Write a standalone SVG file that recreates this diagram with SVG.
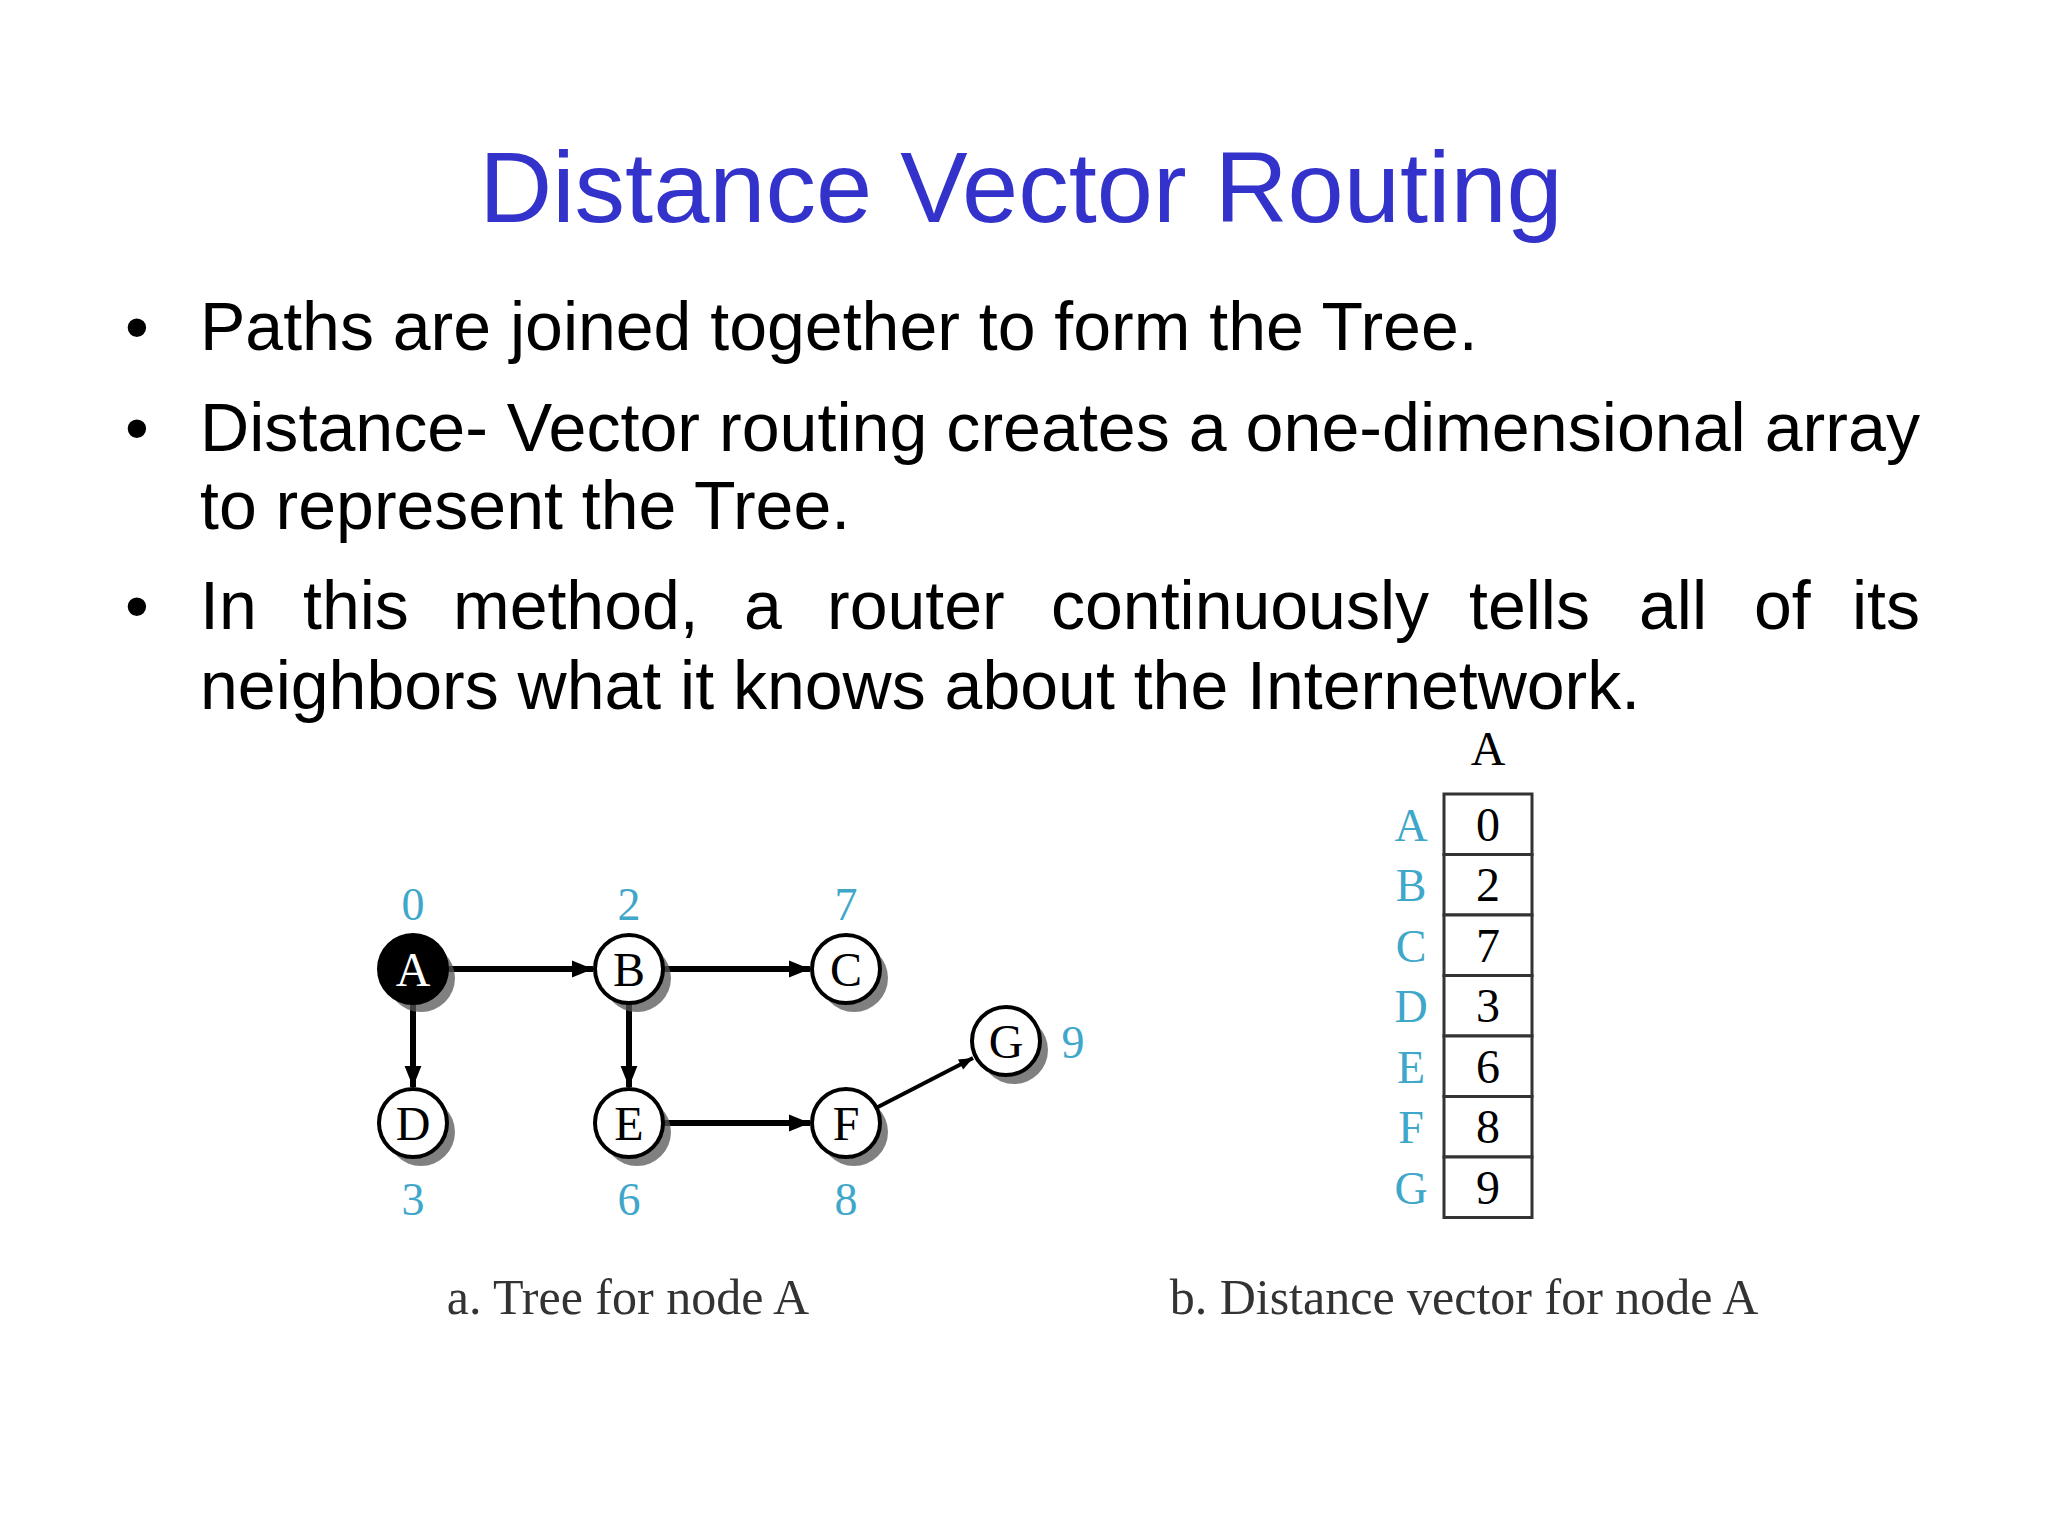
<svg xmlns="http://www.w3.org/2000/svg" width="2048" height="1536" viewBox="0 0 2048 1536">
<defs>
<style>
.t{font-family:"Liberation Sans",Arial,sans-serif;fill:#000;font-size:68px}
.s{font-family:"Liberation Serif","Times New Roman",serif}
.n{font-size:48px;fill:#000;text-anchor:middle}
.c{font-size:46px;fill:#3fa7c9;text-anchor:middle}
.sh{fill:#555;opacity:0.75}
.nd{fill:#fff;stroke:#000;stroke-width:4}
.e{stroke:#000;stroke-width:6;fill:none;marker-end:url(#ar)}
.cell{fill:#fff;stroke:#333;stroke-width:3}
</style>
<marker id="ar" viewBox="0 0 10 10" refX="10" refY="5" markerWidth="4" markerHeight="3.5" orient="auto" markerUnits="strokeWidth"><path d="M0,1 L10,5 L0,9 z" fill="#000"/></marker>
</defs>
<rect width="2048" height="1536" fill="#fff"/>
<text x="1021" y="222" font-family="Liberation Sans,Arial,sans-serif" font-size="101" fill="#3333cc" text-anchor="middle">Distance Vector Routing</text>
<g class="t">
<text x="125" y="350">•</text><text x="200" y="350">Paths are joined together to form the Tree.</text>
<text x="125" y="451">•</text><text x="200" y="451" textLength="1720" lengthAdjust="spacingAndGlyphs">Distance- Vector routing creates a one-dimensional array</text>
<text x="200" y="529">to represent the Tree.</text>
<text x="125" y="629">•</text><text y="629"><tspan x="200">In</tspan><tspan x="303">this</tspan><tspan x="453">method,</tspan><tspan x="744">a</tspan><tspan x="827">router</tspan><tspan x="1051">continuously</tspan><tspan x="1469">tells</tspan><tspan x="1639">all</tspan><tspan x="1754">of</tspan><tspan x="1852">its</tspan></text>
<text x="200" y="709">neighbors what it knows about the Internetwork.</text>
</g>
<g id="connectors">
<line class="e" x1="447" y1="969" x2="593" y2="969"/>
<line class="e" x1="663" y1="969" x2="810" y2="969"/>
<line class="e" x1="413" y1="1003" x2="413" y2="1087"/>
<line class="e" x1="629" y1="1003" x2="629" y2="1087"/>
<line class="e" x1="663" y1="1123" x2="810" y2="1123"/>
<line class="e" style="stroke-width:4" x1="876" y1="1108" x2="973" y2="1058"/>
</g>
<g id="A"><circle class="sh" cx="421" cy="978" r="34"/><circle cx="413" cy="969" r="34" fill="#000" stroke="#000" stroke-width="4"/><text class="s n" x="413" y="986" style="fill:#fff">A</text><text class="s c" x="413" y="920">0</text></g>
<g id="B"><circle class="sh" cx="637" cy="978" r="34"/><circle class="nd" cx="629" cy="969" r="34"/><text class="s n" x="629" y="986">B</text><text class="s c" x="629" y="920">2</text></g>
<g id="C"><circle class="sh" cx="854" cy="978" r="34"/><circle class="nd" cx="846" cy="969" r="34"/><text class="s n" x="846" y="986">C</text><text class="s c" x="846" y="920">7</text></g>
<g id="D"><circle class="sh" cx="421" cy="1132" r="34"/><circle class="nd" cx="413" cy="1123" r="34"/><text class="s n" x="413" y="1140">D</text><text class="s c" x="413" y="1215">3</text></g>
<g id="E"><circle class="sh" cx="637" cy="1132" r="34"/><circle class="nd" cx="629" cy="1123" r="34"/><text class="s n" x="629" y="1140">E</text><text class="s c" x="629" y="1215">6</text></g>
<g id="F"><circle class="sh" cx="854" cy="1132" r="34"/><circle class="nd" cx="846" cy="1123" r="34"/><text class="s n" x="846" y="1140">F</text><text class="s c" x="846" y="1215">8</text></g>
<g id="G"><circle class="sh" cx="1014" cy="1050" r="34"/><circle class="nd" cx="1006" cy="1041" r="34"/><text class="s n" x="1006" y="1058">G</text><text class="s c" x="1073" y="1058">9</text></g>
<text class="s" x="628" y="1314" font-size="50" fill="#333" text-anchor="middle">a. Tree for node A</text>
<g id="table">
<text class="s n" x="1488" y="765">A</text>
<rect class="cell" x="1444" y="794" width="88" height="60.5"/>
<rect class="cell" x="1444" y="854.5" width="88" height="60.5"/>
<rect class="cell" x="1444" y="915" width="88" height="60.5"/>
<rect class="cell" x="1444" y="975.5" width="88" height="60.5"/>
<rect class="cell" x="1444" y="1036" width="88" height="60.5"/>
<rect class="cell" x="1444" y="1096.5" width="88" height="60.5"/>
<rect class="cell" x="1444" y="1157" width="88" height="60.5"/>
<g class="s n"><text x="1488" y="841">0</text><text x="1488" y="901">2</text><text x="1488" y="962">7</text><text x="1488" y="1022">3</text><text x="1488" y="1083">6</text><text x="1488" y="1143">8</text><text x="1488" y="1204">9</text></g>
<g class="s c"><text x="1411" y="841">A</text><text x="1411" y="901">B</text><text x="1411" y="962">C</text><text x="1411" y="1022">D</text><text x="1411" y="1083">E</text><text x="1411" y="1143">F</text><text x="1411" y="1204">G</text></g>
</g>
<text class="s" x="1464" y="1314" font-size="50" fill="#333" text-anchor="middle">b. Distance vector for node A</text>
</svg>
